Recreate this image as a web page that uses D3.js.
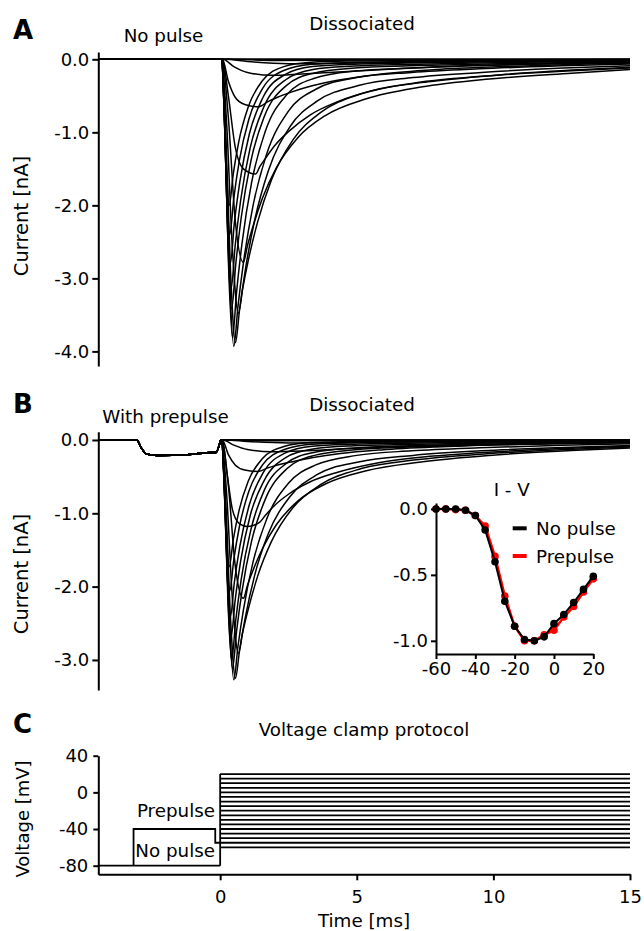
<!DOCTYPE html>
<html>
<head>
<meta charset="utf-8">
<script src="https://cdn.jsdelivr.net/npm/d3@7"></script>
<style>
  body { margin: 0; background: #fff; }
  svg text { font-family: "DejaVu Sans", sans-serif; fill: #000; }
  .axis path, .axis line { stroke: #000; stroke-width: 2; }
  .axis text { font-size: 18px; font-family: "DejaVu Sans", sans-serif; }
  .trace { fill: none; stroke: #000; stroke-width: 1.5; }
</style>
</head>
<body>
<div id="chart"></div>
<script>
// ---- data ----
const timeStart = -4.46;
const timeEnd = 15;
const sweepVoltages = [-60, -55, -50, -45, -40, -35, -30, -25, -20, -15, -10, -5, 0, 5, 10, 15, 20];

// current traces after the test step, [ms, nA], one list per sweep (same order as sweepVoltages)
const tracesA = [
  [[0.05,0],[15,0]],
  [[0.05,0],[15,0]],
  [[0.3,0],[2,-0.015],[6,-0.01],[15,0]],
  [[0.2,0],[1,-0.03],[2.5,-0.06],[5,-0.05],[9,-0.03],[15,-0.01]],
  [[0.1,0],[0.5,-0.1],[1.0,-0.18],[1.9,-0.22],[3,-0.2],[4.5,-0.17],[6.5,-0.13],[9,-0.09],[12,-0.06],[15,-0.04]],
  [[0.08,0],[0.3,-0.3],[0.55,-0.52],[0.9,-0.62],[1.4,-0.65],[1.75,-0.58],[2.1,-0.52],[2.6,-0.45],[3.4,-0.36],[4.4,-0.28],[5.9,-0.2],[7.9,-0.14],[10.4,-0.1],[13.4,-0.066],[15,-0.053]],
  [[0.08,0],[0.3,-0.5],[0.55,-1.2],[0.85,-1.5],[1.3,-1.57],[1.45,-1.47],[1.65,-1.36],[2.0,-1.18],[2.5,-0.99],[3.3,-0.76],[4.3,-0.58],[5.8,-0.41],[7.8,-0.3],[10.3,-0.21],[13.3,-0.14],[15,-0.11]],
  [[0.06,0],[0.3,-0.8],[0.55,-2.2],[0.85,-2.78],[1.0,-2.55],[1.2,-2.29],[1.55,-1.9],[2.05,-1.49],[2.85,-1.07],[3.85,-0.77],[5.35,-0.54],[7.35,-0.38],[9.85,-0.27],[12.85,-0.19],[15,-0.14]],
  [[0.05,0],[0.236,-0.87],[0.45,-2.61],[0.67,-3.48],[0.82,-3.15],[1.02,-2.77],[1.37,-2.23],[1.87,-1.66],[2.67,-1.1],[3.67,-0.73],[5.17,-0.47],[7.17,-0.32],[9.67,-0.23],[12.67,-0.16],[15,-0.12]],
  [[0.05,0],[0.2,-0.97],[0.38,-2.91],[0.56,-3.88],[0.71,-3.43],[0.91,-2.91],[1.26,-2.21],[1.76,-1.53],[2.56,-0.92],[3.56,-0.57],[5.06,-0.36],[7.06,-0.25],[9.56,-0.18],[12.56,-0.12],[15,-0.09]],
  [[0.05,0],[0.185,-0.98],[0.34,-2.95],[0.5,-3.93],[0.65,-3.39],[0.85,-2.79],[1.2,-2.01],[1.7,-1.3],[2.5,-0.71],[3.5,-0.41],[5,-0.25],[7,-0.18],[9.5,-0.13],[12.5,-0.09],[15,-0.064]],
  [[0.05,0],[0.17,-0.95],[0.31,-2.86],[0.45,-3.81],[0.6,-3.19],[0.8,-2.52],[1.15,-1.69],[1.65,-0.99],[2.45,-0.48],[3.45,-0.26],[4.95,-0.16],[6.95,-0.12],[9.45,-0.086],[12.45,-0.059],[15,-0.043]],
  [[0.05,0],[0.161,-0.86],[0.29,-2.57],[0.42,-3.42],[0.57,-2.81],[0.77,-2.17],[1.12,-1.4],[1.62,-0.78],[2.42,-0.36],[3.42,-0.19],[4.92,-0.12],[6.92,-0.09],[9.42,-0.067],[12.42,-0.046],[15,-0.033]],
  [[0.05,0],[0.155,-0.79],[0.278,-2.36],[0.4,-3.14],[0.55,-2.55],[0.75,-1.93],[1.1,-1.21],[1.6,-0.65],[2.4,-0.28],[3.4,-0.14],[4.9,-0.093],[6.9,-0.07],[9.4,-0.051],[12.4,-0.035],[15,-0.025]],
  [[0.05,0],[0.146,-0.7],[0.258,-2.1],[0.37,-2.8],[0.52,-2.24],[0.72,-1.68],[1.07,-1.02],[1.57,-0.52],[2.37,-0.21],[3.37,-0.1],[4.87,-0.067],[6.87,-0.05],[9.37,-0.036],[12.37,-0.025],[15,-0.018]],
  [[0.05,0],[0.14,-0.6],[0.245,-1.8],[0.35,-2.4],[0.5,-1.9],[0.7,-1.39],[1.05,-0.82],[1.55,-0.4],[2.35,-0.15],[3.35,-0.068],[4.85,-0.043],[6.85,-0.032],[9.35,-0.023],[12.35,-0.016],[15,-0.012]],
  [[0.05,0],[0.134,-0.5],[0.232,-1.5],[0.33,-2.0],[0.48,-1.57],[0.68,-1.13],[1.03,-0.65],[1.53,-0.3],[2.33,-0.1],[3.33,-0.04],[4.83,-0.024],[6.83,-0.018],[9.33,-0.013],[12.33,-0.009],[15,-0.006]]
];

const tracesB = [
  [[0.05,0],[15,0]],
  [[0.05,0],[15,0]],
  [[0.3,0],[2,-0.01],[6,-0.007],[15,0]],
  [[0.2,0],[1,-0.02],[2.5,-0.04],[5,-0.035],[9,-0.02],[15,-0.01]],
  [[0.1,0],[0.5,-0.07],[1.0,-0.13],[1.9,-0.16],[3,-0.15],[4.5,-0.12],[6.5,-0.09],[9,-0.065],[12,-0.045],[15,-0.03]],
  [[0.08,0],[0.3,-0.2],[0.55,-0.34],[0.9,-0.41],[1.4,-0.43],[1.75,-0.38],[2.1,-0.34],[2.6,-0.3],[3.4,-0.24],[4.4,-0.185],[5.9,-0.135],[7.9,-0.095],[10.4,-0.065],[13.4,-0.044],[15,-0.035]],
  [[0.08,0],[0.25,-0.45],[0.45,-0.95],[0.7,-1.14],[1.0,-1.18],[1.45,-1.12],[1.65,-1.03],[2.0,-0.89],[2.5,-0.74],[3.3,-0.57],[4.3,-0.44],[5.8,-0.31],[7.8,-0.22],[10.3,-0.156],[13.3,-0.106],[15,-0.085]],
  [[0.06,0],[0.3,-0.62],[0.55,-1.71],[0.85,-2.16],[1.0,-1.98],[1.2,-1.78],[1.55,-1.48],[2.05,-1.16],[2.85,-0.83],[3.85,-0.6],[5.35,-0.42],[7.35,-0.3],[9.85,-0.21],[12.85,-0.145],[15,-0.11]],
  [[0.05,0],[0.236,-0.73],[0.45,-2.18],[0.67,-2.91],[0.82,-2.63],[1.02,-2.32],[1.37,-1.86],[1.87,-1.39],[2.67,-0.92],[3.67,-0.61],[5.17,-0.39],[7.17,-0.27],[9.67,-0.19],[12.67,-0.13],[15,-0.097]],
  [[0.05,0],[0.2,-0.81],[0.38,-2.44],[0.56,-3.25],[0.71,-2.87],[0.91,-2.44],[1.26,-1.85],[1.76,-1.28],[2.56,-0.77],[3.56,-0.47],[5.06,-0.3],[7.06,-0.21],[9.56,-0.148],[12.56,-0.101],[15,-0.075]],
  [[0.05,0],[0.185,-0.82],[0.34,-2.45],[0.5,-3.27],[0.65,-2.82],[0.85,-2.32],[1.2,-1.67],[1.7,-1.08],[2.5,-0.59],[3.5,-0.34],[5,-0.21],[7,-0.148],[9.5,-0.106],[12.5,-0.073],[15,-0.053]],
  [[0.05,0],[0.17,-0.78],[0.31,-2.34],[0.45,-3.12],[0.6,-2.61],[0.8,-2.06],[1.15,-1.38],[1.65,-0.81],[2.45,-0.39],[3.45,-0.21],[4.95,-0.133],[6.95,-0.097],[9.45,-0.07],[12.45,-0.048],[15,-0.035]],
  [[0.05,0],[0.161,-0.75],[0.29,-2.25],[0.42,-3.0],[0.57,-2.46],[0.77,-1.9],[1.12,-1.23],[1.62,-0.68],[2.42,-0.32],[3.42,-0.17],[4.92,-0.108],[6.92,-0.08],[9.42,-0.059],[12.42,-0.04],[15,-0.029]],
  [[0.05,0],[0.155,-0.67],[0.278,-2.01],[0.4,-2.68],[0.55,-2.18],[0.75,-1.65],[1.1,-1.03],[1.6,-0.56],[2.4,-0.24],[3.4,-0.123],[4.9,-0.079],[6.9,-0.06],[9.4,-0.044],[12.4,-0.03],[15,-0.021]],
  [[0.05,0],[0.146,-0.6],[0.258,-1.81],[0.37,-2.42],[0.52,-1.94],[0.72,-1.45],[1.07,-0.88],[1.57,-0.45],[2.37,-0.18],[3.37,-0.086],[4.87,-0.058],[6.87,-0.043],[9.37,-0.031],[12.37,-0.022],[15,-0.016]],
  [[0.05,0],[0.14,-0.51],[0.245,-1.54],[0.35,-2.06],[0.5,-1.63],[0.7,-1.19],[1.05,-0.7],[1.55,-0.34],[2.35,-0.13],[3.35,-0.058],[4.85,-0.037],[6.85,-0.027],[9.35,-0.02],[12.35,-0.014],[15,-0.01]],
  [[0.05,0],[0.134,-0.43],[0.232,-1.3],[0.33,-1.73],[0.48,-1.36],[0.68,-0.98],[1.03,-0.56],[1.53,-0.26],[2.33,-0.09],[3.33,-0.035],[4.83,-0.02],[6.83,-0.016],[9.33,-0.011],[12.33,-0.008],[15,-0.005]]
];

// current during the prepulse (panel B, shared by all sweeps)
const prepulseCurrent = [[-4.46,0],[-3.05,0],[-2.9,-0.1],[-2.7,-0.19],[-2.3,-0.21],[-1.2,-0.2],[-0.3,-0.17],[-0.15,-0.17],[-0.02,-0.05],[0.02,0]];

// I-V (normalized peak current)
const ivVoltages = [-60, -55, -50, -45, -40, -35, -30, -25, -20, -15, -10, -5, 0, 5, 10, 15, 20];
const ivNoPulse  = [0, 0, 0, -0.01, -0.05, -0.16, -0.40, -0.70, -0.89, -0.99, -1.0, -0.97, -0.87, -0.80, -0.71, -0.61, -0.51];
const ivPrepulse = [0, 0, -0.005, -0.01, -0.05, -0.13, -0.36, -0.66, -0.89, -1.0, -1.0, -0.955, -0.92, -0.82, -0.74, -0.63, -0.53];

// voltage clamp protocol (mV, ms)
const holdingLevel = -80;
const prepulseLevel = -40;
const gapLevel = -55;
const prepulseOn = -3.17;
const prepulseOff = -0.18;
const testLevels = [-60, -55, -50, -45, -40, -35, -30, -25, -20, -15, -10, -5, 0, 5, 10, 15, 20];

const ticksA = [0, -1, -2, -3, -4];
const ticksB = [0, -1, -2, -3];
const ticksIVx = [-60, -40, -20, 0, 20];
const ticksIVy = [0, -0.5, -1];
const ticksCx = [0, 5, 10, 15];
const ticksCy = [40, 0, -40, -80];

// ---- drawing ----
const svg = d3.select("#chart").append("svg")
  .attr("width", 644)
  .attr("height", 931);

const x = d3.scaleLinear().domain([timeStart, timeEnd]).range([98.3, 630]);
const yA = d3.scaleLinear().domain([-4.2, 0.1]).range([366, 52]);
const yB = d3.scaleLinear().domain([-3.41, 0.113]).range([690, 431.7]);
const yC = d3.scaleLinear().domain([-89.4, 40]).range([874.3, 755.7]);
const xIV = d3.scaleLinear().domain([-60, 20]).range([436, 593.3]);
const yIV = d3.scaleLinear().domain([-1.1, 0.045]).range([654, 503]);

// plain hyphen for negative numbers, like the original
const fmt1 = d => d.toFixed(1);
const fmt0 = d => String(d);

function label(txt, px, py, size, anchor, weight) {
  svg.append("text")
    .attr("x", px).attr("y", py)
    .attr("text-anchor", anchor || "middle")
    .style("font-size", size + "px")
    .style("font-weight", weight || "normal")
    .text(txt);
}

function vlabel(txt, px, py, size) {
  svg.append("text")
    .attr("transform", `translate(${px},${py}) rotate(-90)`)
    .attr("text-anchor", "middle")
    .style("font-size", size + "px")
    .text(txt);
}

// panel A
let lineA = d3.line()
  .x(d => x(d[0]))
  .y(d => yA(d[1]))
  .curve(d3.curveMonotoneX);

svg.append("g").selectAll("path")
  .data(tracesA)
  .enter().append("path")
  .attr("class", "trace")
  .attr("d", d => lineA([[timeStart, 0]].concat(d)));

svg.append("g")
  .attr("class", "axis")
  .attr("transform", `translate(${x(timeStart)},0)`)
  .call(d3.axisLeft(yA).tickValues(ticksA).tickFormat(fmt1).tickSize(6).tickPadding(3).tickSizeOuter(0));

label("A", 13, 39, 26, "start", "bold");
label("No pulse", 163.5, 42.3, 18.3);
label("Dissociated", 362, 30, 18.3);
vlabel("Current [nA]", 28.2, 216, 19.5);

// panel B
let lineB = d3.line()
  .x(d => x(d[0]))
  .y(d => yB(d[1]))
  .curve(d3.curveMonotoneX);

svg.append("g").selectAll("path")
  .data(tracesB)
  .enter().append("path")
  .attr("class", "trace")
  .attr("d", d => lineB(prepulseCurrent.concat(d)));

svg.append("g")
  .attr("class", "axis")
  .attr("transform", `translate(${x(timeStart)},0)`)
  .call(d3.axisLeft(yB).tickValues(ticksB).tickFormat(fmt1).tickSize(6).tickPadding(3).tickSizeOuter(0));

label("B", 13, 413, 26, "start", "bold");
label("With prepulse", 165.5, 422.7, 18.3);
label("Dissociated", 362, 410.7, 18.3);
vlabel("Current [nA]", 28.2, 574, 19.5);

// inset I-V
let lineIV = d3.line()
  .x(d => xIV(d[0]))
  .y(d => yIV(d[1]));

const ivRed = ivVoltages.map((v, i) => [v, ivPrepulse[i]]);
const ivBlack = ivVoltages.map((v, i) => [v, ivNoPulse[i]]);

svg.append("path").datum(ivRed)
  .attr("d", lineIV).attr("fill", "none").attr("stroke", "#ff0000").attr("stroke-width", 2.5);
svg.append("g").selectAll("circle").data(ivRed).enter().append("circle")
  .attr("cx", d => xIV(d[0])).attr("cy", d => yIV(d[1])).attr("r", 3.8).attr("fill", "#ff0000");

svg.append("path").datum(ivBlack)
  .attr("d", lineIV).attr("fill", "none").attr("stroke", "#000").attr("stroke-width", 2);
svg.append("g").selectAll("circle").data(ivBlack).enter().append("circle")
  .attr("cx", d => xIV(d[0])).attr("cy", d => yIV(d[1])).attr("r", 3.8).attr("fill", "#000");

svg.append("g")
  .attr("class", "axis")
  .attr("transform", `translate(${xIV(-60)},0)`)
  .call(d3.axisLeft(yIV).tickValues(ticksIVy).tickFormat(fmt1).tickSize(5).tickPadding(3).tickSizeOuter(0));

svg.append("g")
  .attr("class", "axis")
  .attr("transform", `translate(0,${yIV(-1.1)})`)
  .call(d3.axisBottom(xIV).tickValues(ticksIVx).tickFormat(fmt0).tickSize(5).tickPadding(3).tickSizeOuter(0));

label("I - V", 511.7, 496, 18.3);

const legendItems = [["No pulse", "#000", 528.3], ["Prepulse", "#ff0000", 556]];
legendItems.forEach(([name, col, ly]) => {
  svg.append("line")
    .attr("x1", 512.7).attr("x2", 526.7)
    .attr("y1", ly).attr("y2", ly)
    .attr("stroke", col).attr("stroke-width", 4);
  label(name, 536, ly + 7, 18.3, "start");
});

// panel C
let lineC = d3.line()
  .x(d => x(d[0]))
  .y(d => yC(d[1]));

const protoStyle = sel => sel.attr("fill", "none").attr("stroke", "#000").attr("stroke-width", 1.8);

svg.append("path").datum([[timeStart, holdingLevel], [0, holdingLevel]])
  .attr("d", lineC).call(protoStyle);
svg.append("path").datum([[prepulseOn, holdingLevel], [prepulseOn, prepulseLevel], [prepulseOff, prepulseLevel], [prepulseOff, gapLevel], [0, gapLevel]])
  .attr("d", lineC).call(protoStyle);
svg.append("path").datum([[0, holdingLevel], [0, d3.max(testLevels)]])
  .attr("d", lineC).call(protoStyle);

svg.append("g").selectAll("path")
  .data(testLevels)
  .enter().append("path")
  .attr("d", v => lineC([[0, v], [timeEnd, v]]))
  .call(protoStyle);

svg.append("g")
  .attr("class", "axis")
  .attr("transform", `translate(${x(timeStart)},0)`)
  .call(d3.axisLeft(yC).tickValues(ticksCy).tickFormat(fmt0).tickSize(5).tickPadding(5).tickSizeOuter(0));

svg.append("g")
  .attr("class", "axis")
  .attr("transform", `translate(0,${yC(-89.4)})`)
  .call(d3.axisBottom(x).tickValues(ticksCx).tickFormat(fmt0).tickSize(6).tickPadding(10).tickSizeOuter(0));

label("C", 13, 733, 26, "start", "bold");
label("Voltage clamp protocol", 364, 736.3, 18.3);
label("Prepulse", 215, 817.3, 18.3, "end");
label("No pulse", 215, 857.3, 18.3, "end");
vlabel("Voltage [mV]", 29, 819, 18);
label("Time [ms]", 364, 927, 18.3);
</script>
</body>
</html>
